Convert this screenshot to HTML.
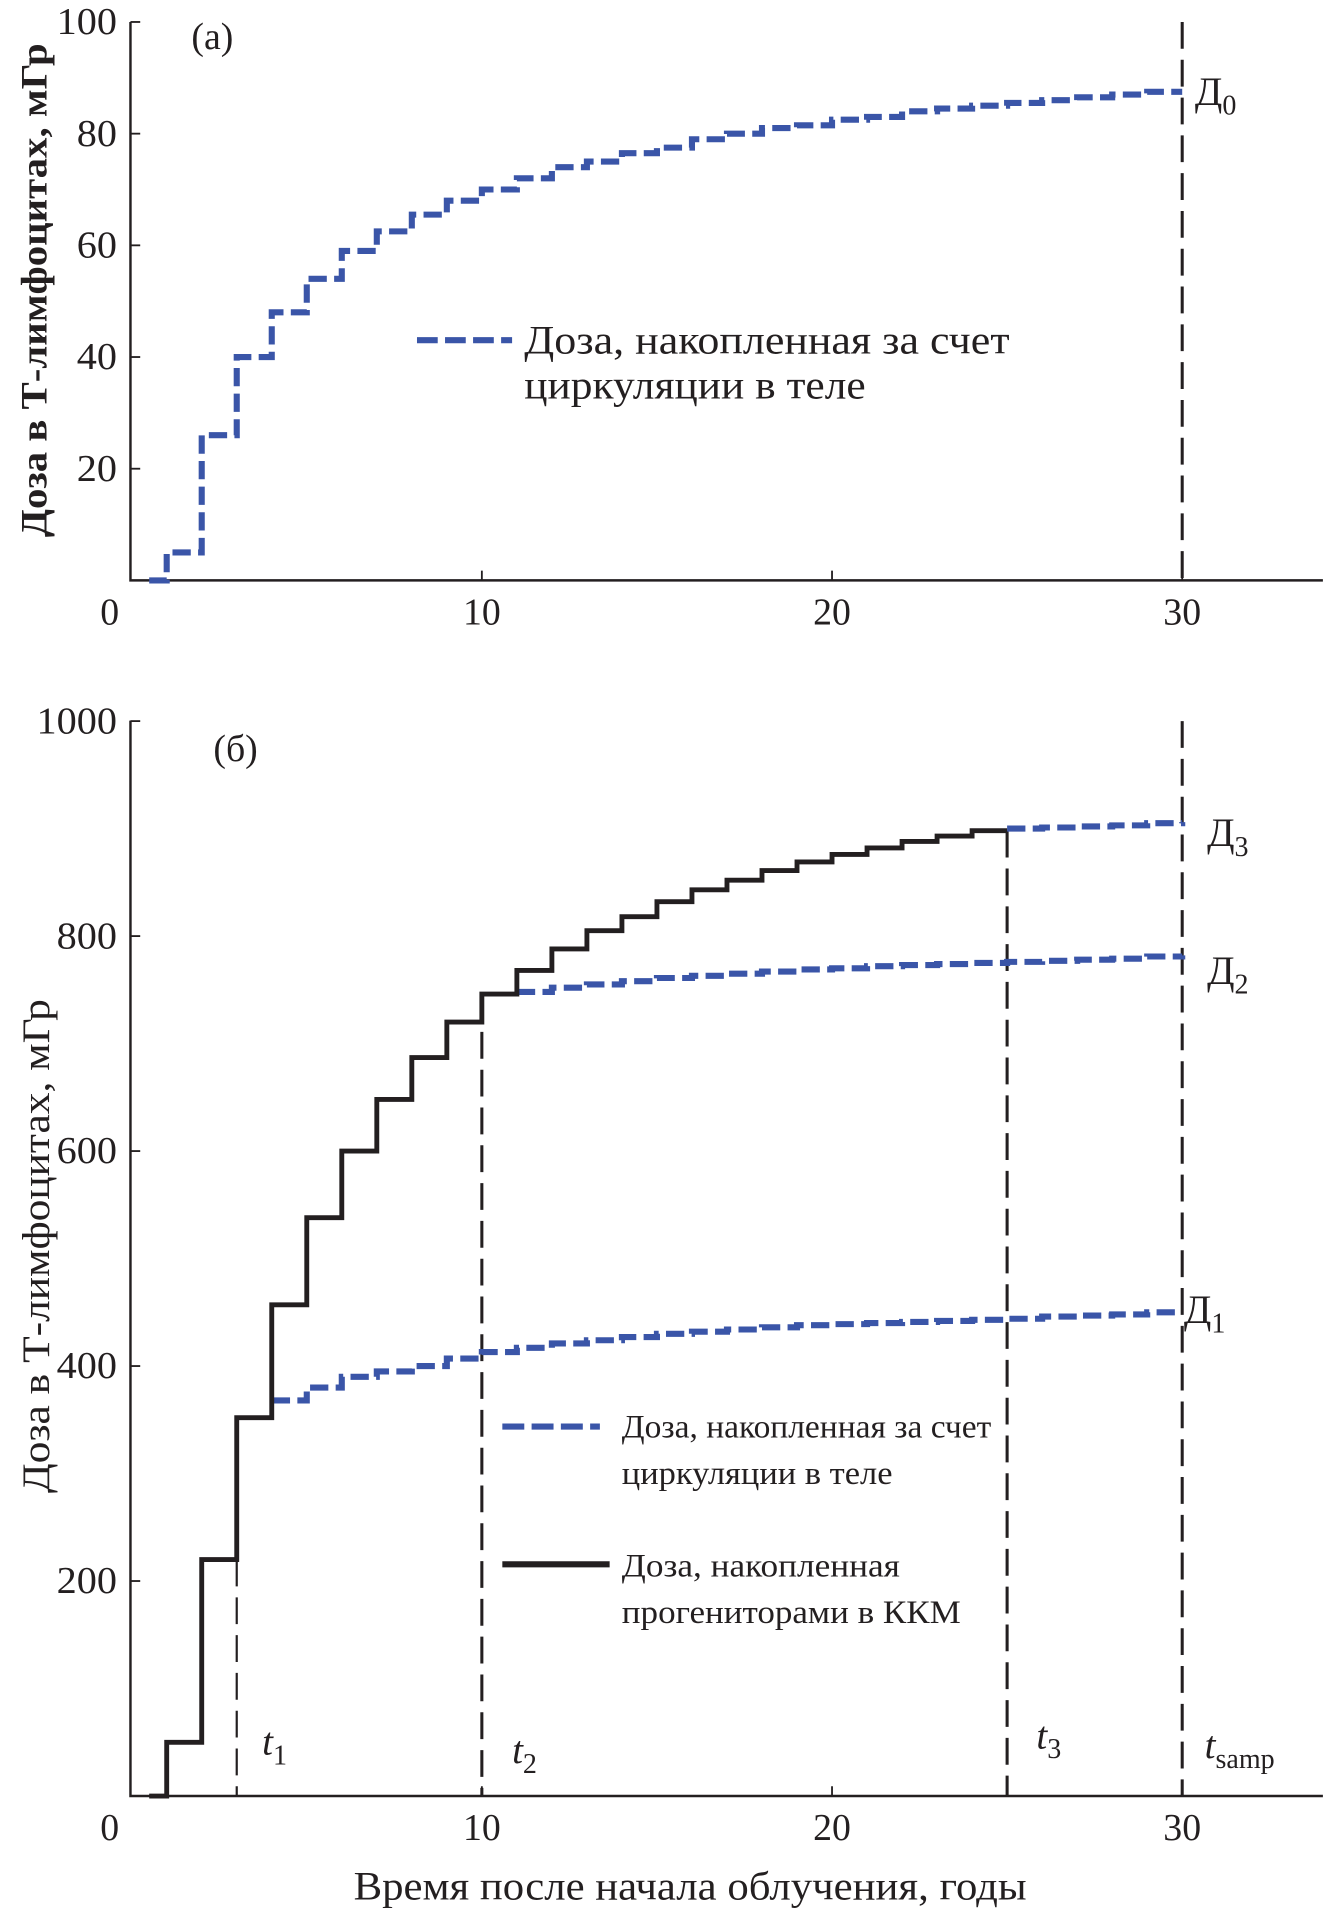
<!DOCTYPE html>
<html><head><meta charset="utf-8">
<style>
html,body{margin:0;padding:0;background:#fff;}
svg{display:block;font-family:"Liberation Serif","Noto Serif CJK SC",serif;}
</style></head>
<body>
<svg id="chart" width="1329" height="1921" viewBox="0 0 1090 1575.5" xmlns="http://www.w3.org/2000/svg">
<g id="top"></g>
<g id="bot"></g>
</svg>
<script>
// Panel (a) data
const yearsA = [0.5,1,2,3,4,5,6,7,8,9,10,11,12,13,14,15,16,17,18,19,20,21,22,23,24,25,26,27,28,29,30];
const doseA = [0,5,26,40,48,54,59,62.5,65.5,68,70,72,74,75,76.5,77.5,79,80,81,81.5,82.5,83,84,84.5,85,85.5,86,86.5,87,87.5,87.5];
// Panel (б) data
const yearsProg = [0.5,1,2,3,4,5,6,7,8,9,10,11,12,13,14,15,16,17,18,19,20,21,22,23,24,25];
const doseProg = [0,50,220,352,457,538,600,648,687,720,746,768,788,805,818,832,843,852,861,869,876,882,888,893,898,898];
const yearsD1 = [4,5,6,7,8,9,10,11,12,13,14,15,16,17,18,19,20,21,22,23,24,25,26,27,28,29,30];
const doseD1 = [368,380,390,395,400,407,413,417,421,424,427,430,432,434,436,438,439,440,441,442,443,444,446,447,448,450,450];
const yearsD2 = [11,12,13,14,15,16,17,18,19,20,21,22,23,24,25,26,27,28,29,30];
const doseD2 = [748,752,755,758,761,763,765,767,769,770,772,773,774,775,776,777,778,779,781,782];
const yearsD3 = [25,26,27,28,29,30];
const doseD3 = [900,901,902,903,905,906];
const xTicks = [0,10,20,30];
const yTicksA = [20,40,60,80,100];
const yTicksB = [200,400,600,800,1000];
const markerYears = [3,10,25,30];
const markerFrom = [220,746,898,1000];

const NS="http://www.w3.org/2000/svg";
const BLUE="#3a55a8";
function el(parent,tag,attrs,text){const e=document.createElementNS(NS,tag);for(const k in attrs)e.setAttribute(k,attrs[k]);if(text!==undefined)e.textContent=text;parent.appendChild(e);return e;}
const X0=108, PX=28.72;
const sx=v=>X0+v*PX;
function stepPath(xs,ys,sy){let d="";for(let i=0;i<xs.length;i++){const x=sx(xs[i]),y=sy(ys[i]);if(i===0)d+="M"+x+" "+y;else{d+=" L"+x+" "+sy(ys[i-1])+" L"+x+" "+y;}}return d;}

function axes(g,sy,yTicks,top,bottom){
 const a=el(g,"path",{d:`M107 ${top} L107 ${bottom} L1085 ${bottom}`,fill:"none",stroke:"#231f20","stroke-width":2});
 
 
 yTicks.forEach(v=>{
  const t=el(g,"line",{x1:107,x2:115,y1:sy(v),y2:sy(v),stroke:"#231f20","stroke-width":1.5});
  
  
  const s=String(v).length;
  const l=el(g,"text",{x:96,y:sy(v)+10,"text-anchor":"end","font-size":31,fill:"#231f20",textLength:s*16.5,lengthAdjust:"spacingAndGlyphs"},v);
  
  
 });
 xTicks.forEach(v=>{
  if(v>0){const t=el(g,"line",{x1:sx(v),x2:sx(v),y1:bottom-8,y2:bottom,stroke:"#231f20","stroke-width":1.5});
  
  }
  const l=el(g,"text",{x:v===0?90:sx(v),y:bottom+36,"text-anchor":"middle","font-size":31,fill:"#231f20"},v);
  
  
 });
}

// Panel (a)
const gA=document.getElementById("top");
const syA=v=>476-v*4.58;
axes(gA,syA,yTicksA,18,476);
let v=el(gA,"line",{x1:sx(30),x2:sx(30),y1:18,y2:476,stroke:"#231f20","stroke-width":2.5,"stroke-dasharray":"22 9"});


let p=el(gA,"path",{d:stepPath(yearsA,doseA,syA),fill:"none",stroke:BLUE,"stroke-width":5,"stroke-dasharray":"15 6"});


let t=el(gA,"text",{x:157,y:40,"font-size":31,fill:"#231f20"},"(а)");


t=el(gA,"text",{x:980,y:86,"font-size":33,fill:"#231f20"});t.innerHTML='Д<tspan font-size="23" dy="8">0</tspan>';


t=el(gA,"line",{x1:342,x2:420,y1:279,y2:279,stroke:BLUE,"stroke-width":5,"stroke-dasharray":"17 6"});


t=el(gA,"text",{x:430,y:290,"font-size":33,fill:"#231f20",textLength:398,lengthAdjust:"spacingAndGlyphs"},"Доза, накопленная за счет");


t=el(gA,"text",{x:430,y:327,"font-size":33,fill:"#231f20",textLength:280,lengthAdjust:"spacingAndGlyphs"},"циркуляции в теле");


t=el(gA,"text",{x:0,y:0,"font-size":30,"font-weight":"bold",fill:"#231f20","text-anchor":"middle",textLength:405,lengthAdjust:"spacingAndGlyphs",transform:"translate(38,238) rotate(-90)"},"Доза в Т-лимфоцитах, мГр");



// Panel (б)
const gB=document.getElementById("bot");
const syB=v=>1473-v*0.8816;
axes(gB,syB,yTicksB,591,1473);
markerYears.forEach((yr,i)=>{
 const m=el(gB,"line",{x1:sx(yr),x2:sx(yr),y1:syB(markerFrom[i]),y2:1473,stroke:"#231f20","stroke-width":yr===3?1.8:2.5,"stroke-dasharray":"22 9"});
 
 
});
[[yearsD1,doseD1,'d1-line'],[yearsD2,doseD2,'d2-line'],[yearsD3,doseD3,'d3-line']].forEach(s=>{
 const q=el(gB,"path",{d:stepPath(s[0],s[1],syB),fill:"none",stroke:BLUE,"stroke-width":5,"stroke-dasharray":"15 6"});
 
 
});
p=el(gB,"path",{d:stepPath(yearsProg,doseProg,syB),fill:"none",stroke:"#231f20","stroke-width":4});


t=el(gB,"text",{x:175,y:624,"font-size":31,fill:"#231f20"},"(б)");


[["3",990,694,'d3-label'],["2",990,807,'d2-label'],["1",971,1085,'d1-label']].forEach(a=>{
 const q=el(gB,"text",{x:a[1],y:a[2],"font-size":33,fill:"#231f20"});q.innerHTML='Д<tspan font-size="23" dy="8">'+a[0]+'</tspan>';
 
 
});
[["1",215,1439,'t1-label'],["2",420,1446,'t2-label'],["3",850,1434,'t3-label'],["samp",988,1442,'tsamp-label']].forEach(a=>{
 const q=el(gB,"text",{x:a[1],y:a[2],"font-size":32,fill:"#231f20"});q.innerHTML='<tspan font-style="italic">t</tspan><tspan font-size="23" dy="8">'+a[0]+'</tspan>';
 
 
});
t=el(gB,"line",{x1:412,x2:492,y1:1170,y2:1170,stroke:BLUE,"stroke-width":5,"stroke-dasharray":"18 6"});


t=el(gB,"text",{x:510,y:1179,"font-size":27,fill:"#231f20",textLength:303,lengthAdjust:"spacingAndGlyphs"},"Доза, накопленная за счет");


t=el(gB,"text",{x:510,y:1217,"font-size":27,fill:"#231f20",textLength:222,lengthAdjust:"spacingAndGlyphs"},"циркуляции в теле");


t=el(gB,"line",{x1:412,x2:500,y1:1283,y2:1283,stroke:"#231f20","stroke-width":5});


t=el(gB,"text",{x:510,y:1293,"font-size":27,fill:"#231f20",textLength:228,lengthAdjust:"spacingAndGlyphs"},"Доза, накопленная");


t=el(gB,"text",{x:510,y:1331,"font-size":27,fill:"#231f20",textLength:278,lengthAdjust:"spacingAndGlyphs"},"прогениторами в ККМ");


t=el(gB,"text",{x:0,y:0,"font-size":32,fill:"#231f20","text-anchor":"middle",textLength:405,lengthAdjust:"spacingAndGlyphs",transform:"translate(40,1022) rotate(-90)"},"Доза в Т-лимфоцитах, мГр");


t=el(gB,"text",{x:566,y:1558,"font-size":33,fill:"#231f20","text-anchor":"middle",textLength:552,lengthAdjust:"spacingAndGlyphs"},"Время после начала облучения, годы");


</script>
</body></html>
